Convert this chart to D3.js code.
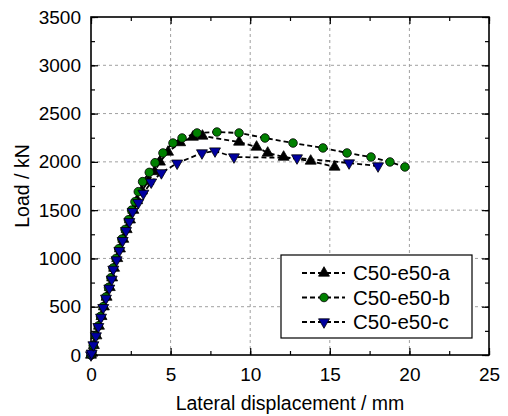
<!DOCTYPE html>
<html>
<head>
<meta charset="utf-8">
<script src="https://cdn.jsdelivr.net/npm/d3@7"></script>
<style>
  body { margin: 0; background: #fff; }
  svg text { font-family: Arial, "Liberation Sans", sans-serif; fill: #000; }
</style>
</head>
<body>
<svg id="chart"></svg>
<script>
// lateral displacement (mm) and load (kN)
const dispA = [0, 0.06, 0.18, 0.34, 0.50, 0.66, 0.81, 0.98, 1.18, 1.33, 1.45, 1.65, 1.82, 2.03, 2.24, 2.45, 2.66, 2.90, 3.20, 3.60, 4.00, 4.33, 4.84, 5.60, 6.40, 7.00, 9.30, 10.40, 11.10, 12.10, 13.80, 15.30];
const loadA = [0, 20, 100, 200, 300, 400, 500, 600, 700, 800, 900, 1000, 1100, 1200, 1300, 1400, 1500, 1600, 1700, 1800, 1900, 1999, 2102, 2200, 2257, 2268, 2206, 2154, 2092, 2050, 2009, 1947];

const dispB = [0, 0.05, 0.14, 0.30, 0.45, 0.60, 0.75, 0.92, 1.10, 1.25, 1.38, 1.57, 1.74, 1.94, 2.14, 2.35, 2.55, 2.76, 2.97, 3.24, 3.66, 4.02, 4.52, 5.15, 5.72, 6.66, 7.91, 9.30, 10.93, 12.69, 14.57, 16.08, 17.59, 18.78, 19.72];
const loadB = [0, 20, 100, 200, 300, 400, 500, 600, 700, 800, 900, 1000, 1100, 1200, 1300, 1400, 1500, 1587, 1691, 1795, 1891, 1991, 2092, 2195, 2247, 2299, 2309, 2299, 2247, 2195, 2144, 2092, 2050, 1999, 1947];

const dispC = [0, 0.04, 0.15, 0.31, 0.46, 0.63, 0.77, 0.94, 1.15, 1.30, 1.40, 1.61, 1.78, 1.99, 2.20, 2.41, 2.62, 2.97, 3.29, 3.78, 4.42, 5.41, 6.97, 7.79, 8.98, 12.94, 16.21, 18.03];
const loadC = [0, 18, 104, 197, 293, 390, 490, 587, 691, 784, 887, 984, 1080, 1184, 1287, 1380, 1484, 1577, 1674, 1790, 1886, 1986, 2092, 2112, 2050, 2040, 1988, 1957];

const seriesNames = ["C50-e50-a", "C50-e50-b", "C50-e50-c"];
const xTicks = [0, 5, 10, 15, 20, 25];
const yTicks = [0, 500, 1000, 1500, 2000, 2500, 3000, 3500];

const width = 508;
const height = 416;
const margin = {top: 17, right: 19, bottom: 61, left: 91};

const svg = d3.select("#chart")
    .attr("width", width)
    .attr("height", height);

const x = d3.scaleLinear().domain([0, 25]).range([margin.left, width - margin.right]);
const y = d3.scaleLinear().domain([0, 3500]).range([height - margin.bottom, margin.top]);

const series = [
    {name: seriesNames[0], disp: dispA, load: loadA, shape: "up", fill: "#000000"},
    {name: seriesNames[1], disp: dispB, load: loadB, shape: "circle", fill: "#008000"},
    {name: seriesNames[2], disp: dispC, load: loadC, shape: "down", fill: "#0000a0"}
];

const symbolFor = s => s === "circle"
    ? d3.symbol(d3.symbolCircle, 58)
    : d3.symbol(d3.symbolTriangle, 52);
const rotFor = s => s === "down" ? " rotate(180)" : "";

// grid
const grid = svg.append("g").attr("stroke", "#a0a0a0").attr("stroke-width", 1).attr("stroke-dasharray", "3,3");
grid.selectAll(".gx").data(xTicks.slice(1, -1)).join("line")
    .attr("x1", d => x(d)).attr("x2", d => x(d))
    .attr("y1", y(0)).attr("y2", y(3500));
grid.selectAll(".gy").data(yTicks.slice(1, -1)).join("line")
    .attr("x1", x(0)).attr("x2", x(25))
    .attr("y1", d => y(d)).attr("y2", d => y(d));

// axes with inward ticks
const xMinor = d3.range(0, 25.01, 2.5);
const yMinor = d3.range(0, 3500.01, 250);

svg.append("g").attr("transform", `translate(0,${y(0)})`)
    .call(d3.axisBottom(x).tickValues(xMinor).tickSize(-4).tickFormat(""))
    .call(g => g.select(".domain").remove());
svg.append("g").attr("transform", `translate(0,${y(0)})`)
    .call(d3.axisBottom(x).tickValues(xTicks).tickSize(-7).tickPadding(13).tickFormat(d3.format("d")))
    .call(g => g.select(".domain").remove())
    .call(g => g.selectAll("text").attr("font-size", 19).attr("dy", "0.71em"));
svg.append("g").attr("transform", `translate(0,${y(3500)})`)
    .call(d3.axisTop(x).tickValues(xMinor).tickSize(-4).tickFormat(""))
    .call(g => g.select(".domain").remove());
svg.append("g").attr("transform", `translate(0,${y(3500)})`)
    .call(d3.axisTop(x).tickValues(xTicks).tickSize(-7).tickFormat(""))
    .call(g => g.select(".domain").remove());

svg.append("g").attr("transform", `translate(${x(0)},0)`)
    .call(d3.axisLeft(y).tickValues(yMinor).tickSize(-4).tickFormat(""))
    .call(g => g.select(".domain").remove());
svg.append("g").attr("transform", `translate(${x(0)},0)`)
    .call(d3.axisLeft(y).tickValues(yTicks).tickSize(-7).tickPadding(10).tickFormat(d3.format("d")))
    .call(g => g.select(".domain").remove())
    .call(g => g.selectAll("text").attr("font-size", 19));
svg.append("g").attr("transform", `translate(${x(25)},0)`)
    .call(d3.axisRight(y).tickValues(yMinor).tickSize(-4).tickFormat(""))
    .call(g => g.select(".domain").remove());
svg.append("g").attr("transform", `translate(${x(25)},0)`)
    .call(d3.axisRight(y).tickValues(yTicks).tickSize(-7).tickFormat(""))
    .call(g => g.select(".domain").remove());

svg.selectAll(".tick line").attr("stroke", "#000").attr("stroke-width", 1.2);

svg.append("rect")
    .attr("x", x(0)).attr("y", y(3500))
    .attr("width", x(25) - x(0)).attr("height", y(0) - y(3500))
    .attr("fill", "none").attr("stroke", "#000").attr("stroke-width", 1.6);

// curves
const line = d3.line().x(d => x(d[0])).y(d => y(d[1]));
const plot = svg.append("g");

series.forEach(s => {
    s.points = s.disp.map((d, i) => [d, s.load[i]]);
});

plot.selectAll(".curve").data(series).join("path")
    .attr("class", "curve")
    .attr("d", s => line(s.points))
    .attr("fill", "none")
    .attr("stroke", "#000")
    .attr("stroke-width", 1.8)
    .attr("stroke-dasharray", "5,3");

series.forEach(s => {
    plot.append("g").selectAll("path").data(s.points).join("path")
        .attr("transform", d => `translate(${x(d[0])},${y(d[1])})${rotFor(s.shape)}`)
        .attr("d", symbolFor(s.shape)())
        .attr("fill", s.fill)
        .attr("stroke", "#000")
        .attr("stroke-width", 0.8);
});

// legend
const legend = svg.append("g").attr("transform", "translate(281,255)");
legend.append("rect")
    .attr("width", 191).attr("height", 83)
    .attr("fill", "#fff").attr("stroke", "#000").attr("stroke-width", 1.2);

legend.selectAll("g").data(series).join("g")
    .attr("transform", (d, i) => `translate(0,${18 + i * 24.5})`)
    .each(function (s) {
        const g = d3.select(this);
        g.append("line")
            .attr("x1", 21).attr("x2", 64)
            .attr("stroke", "#000").attr("stroke-width", 1.8)
            .attr("stroke-dasharray", "5,3");
        g.append("path")
            .attr("transform", `translate(43,0)${rotFor(s.shape)}`)
            .attr("d", symbolFor(s.shape)())
            .attr("fill", s.fill)
            .attr("stroke", "#000")
            .attr("stroke-width", 0.8);
        g.append("text")
            .attr("x", 72).attr("dy", "0.35em")
            .attr("font-size", 20.5)
            .text(s.name);
    });

// axis titles
svg.append("text")
    .attr("x", (x(0) + x(25)) / 2).attr("y", 410)
    .attr("text-anchor", "middle").attr("font-size", 19.5)
    .text("Lateral displacement / mm");

svg.append("text")
    .attr("transform", `translate(29,${(y(0) + y(3500)) / 2}) rotate(-90)`)
    .attr("text-anchor", "middle").attr("font-size", 19.5)
    .text("Load / kN");
</script>
</body>
</html>
